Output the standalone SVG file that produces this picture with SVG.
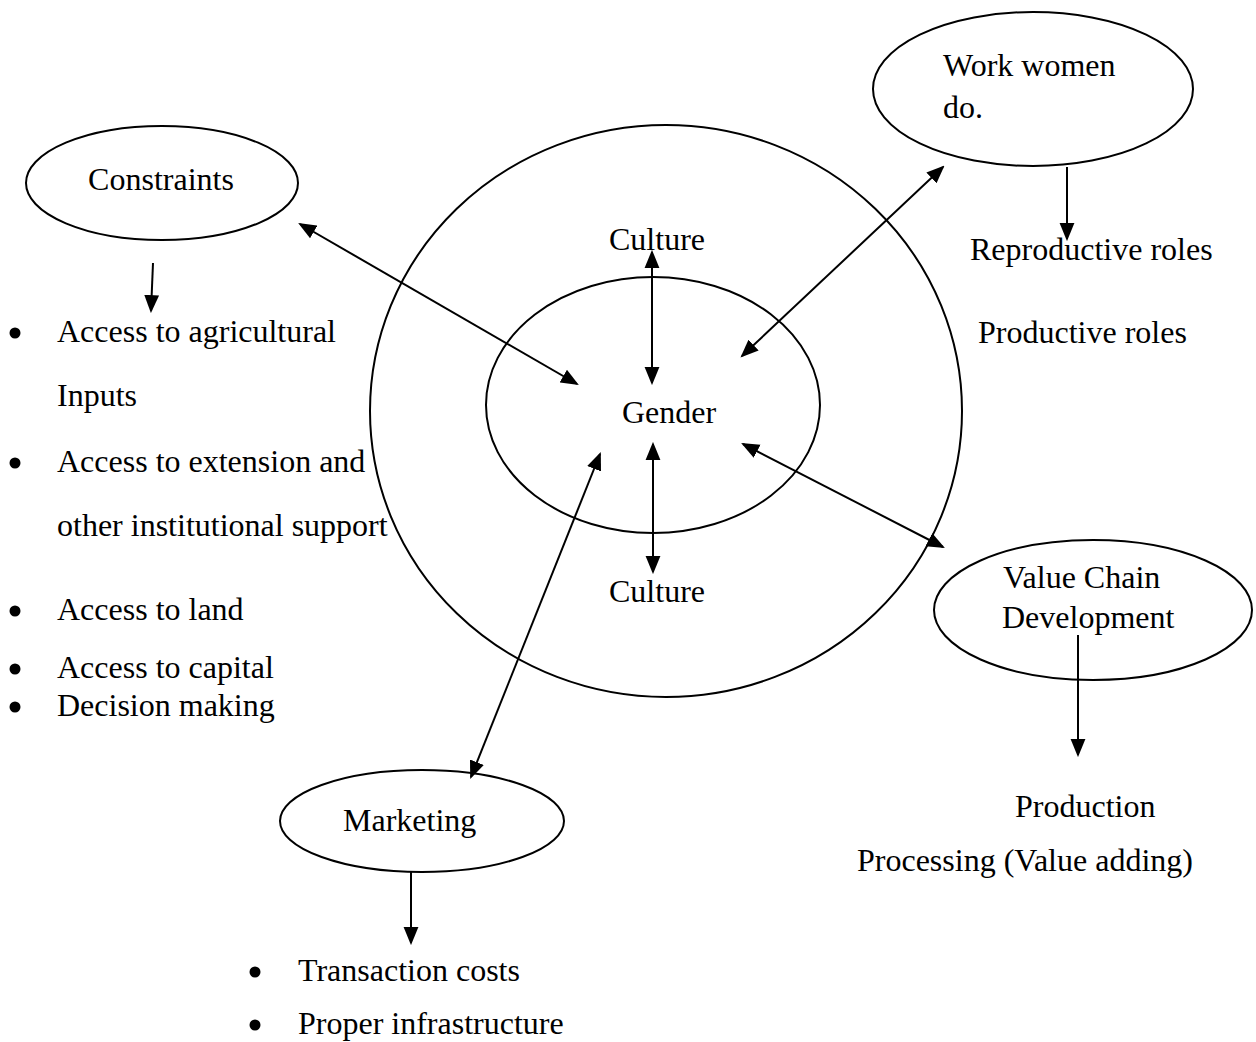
<svg xmlns="http://www.w3.org/2000/svg" width="1256" height="1042" viewBox="0 0 1256 1042">
<style>
.shape{fill:none;stroke:#000;stroke-width:2}
.lbl{font-family:"Liberation Serif","Times New Roman",serif;font-size:32px;fill:#000}
.mid{text-anchor:middle}
.dot{fill:#000}
.conn line{stroke:#000;stroke-width:2}
.bi{marker-start:url(#ah);marker-end:url(#ah)}
.uni{marker-end:url(#ah)}
</style>
<defs>
<marker id="ah" markerUnits="userSpaceOnUse" markerWidth="18" markerHeight="16" refX="15" refY="7" orient="auto-start-reverse" viewBox="0 0 17 14">
<path d="M0,0 L17,7 L0,14 z" fill="#000"/>
</marker>
</defs>
<rect width="1256" height="1042" fill="#fff"/>

<g id="outer-circle"><ellipse class="shape" cx="666" cy="411" rx="296" ry="286"/></g>
<g id="gender">
<ellipse class="shape" cx="653" cy="405" rx="167" ry="128"/>
<text class="lbl mid" x="669" y="423">Gender</text>
</g>
<g id="culture-top"><text class="lbl mid" x="657" y="250">Culture</text></g>
<g id="culture-bottom"><text class="lbl mid" x="657" y="602">Culture</text></g>

<g id="constraints">
<ellipse class="shape" cx="162" cy="183" rx="136" ry="57"/>
<text class="lbl mid" x="161" y="190">Constraints</text>
</g>
<g id="constraints-list">
<circle class="dot" cx="15" cy="333" r="5.5"/><text class="lbl" x="57" y="342">Access to agricultural</text>
<text class="lbl" x="57" y="406">Inputs</text>
<circle class="dot" cx="15" cy="463" r="5.5"/><text class="lbl" x="57" y="472">Access to extension and</text>
<text class="lbl" x="57" y="536">other institutional support</text>
<circle class="dot" cx="15" cy="611" r="5.5"/><text class="lbl" x="57" y="620">Access to land</text>
<circle class="dot" cx="15" cy="669" r="5.5"/><text class="lbl" x="57" y="678">Access to capital</text>
<circle class="dot" cx="15" cy="707" r="5.5"/><text class="lbl" x="57" y="716">Decision making</text>
</g>

<g id="work-women">
<ellipse class="shape" cx="1033" cy="89" rx="160" ry="77"/>
<text class="lbl" x="943" y="76">Work women</text>
<text class="lbl" x="943" y="118">do.</text>
</g>
<g id="work-roles">
<text class="lbl" x="970" y="260">Reproductive roles</text>
<text class="lbl" x="978" y="343">Productive roles</text>
</g>

<g id="value-chain">
<ellipse class="shape" cx="1093" cy="610" rx="159" ry="70"/>
<text class="lbl" x="1003" y="588">Value Chain</text>
<text class="lbl" x="1002" y="628">Development</text>
</g>
<g id="value-chain-list">
<text class="lbl" x="1015" y="817">Production</text>
<text class="lbl" x="857" y="871">Processing (Value adding)</text>
</g>

<g id="marketing">
<ellipse class="shape" cx="422" cy="821" rx="142" ry="51"/>
<text class="lbl" x="343" y="831">Marketing</text>
</g>
<g id="marketing-list">
<circle class="dot" cx="255" cy="972" r="5.5"/><text class="lbl" x="298" y="981">Transaction costs</text>
<circle class="dot" cx="255" cy="1025" r="5.5"/><text class="lbl" x="298" y="1034">Proper infrastructure</text>
</g>

<g id="connectors" class="conn">
<line class="bi" x1="652" y1="252" x2="652" y2="383"/>
<line class="bi" x1="653" y1="444" x2="653" y2="572"/>
<line class="bi" x1="300" y1="224" x2="577" y2="384"/>
<line class="bi" x1="742" y1="356" x2="943" y2="167"/>
<line class="bi" x1="743" y1="444" x2="943" y2="547"/>
<line class="bi" x1="600" y1="454" x2="471" y2="777"/>
<line class="uni" x1="153" y1="263" x2="151" y2="311"/>
<line class="uni" x1="1067" y1="167" x2="1067" y2="239"/>
<line class="uni" x1="1078" y1="635" x2="1078" y2="755"/>
<line class="uni" x1="411" y1="872" x2="411" y2="943"/>
</g>
</svg>
